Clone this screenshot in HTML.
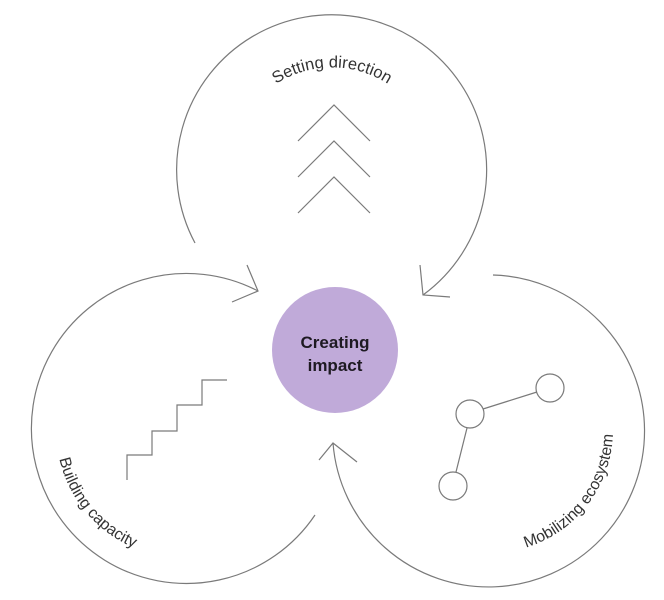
<!DOCTYPE html>
<html><head><meta charset="utf-8"><style>
html,body{margin:0;padding:0;background:#fff;}
svg{display:block;}
text{font-family:"Liberation Sans",sans-serif;fill:#333;}
</style></head><body>
<svg width="664" height="600" viewBox="0 0 664 600" xmlns="http://www.w3.org/2000/svg">
<defs>
<path id="pTop" d="M 235.2 135.2 A 103 103 0 0 1 428.8 135.2"/>
<path id="pLeft" d="M 56 430 A 128 128 0 0 0 161.8 556"/>
<path id="pRight" d="M 500.7 552.5 A 123 123 0 0 0 611.1 408.6"/>
</defs>
<g fill="none" stroke="#7a7a7a" stroke-width="1.2">
<path d="M 195 243 A 155 155 0 1 1 423 295"/>
<polyline points="420,265 423,295 450,297"/>
<path d="M 258 291 A 155 155 0 1 0 315 515"/>
<polyline points="247,265 258,291 232,302"/>
<path d="M 493 275 A 156 156 0 1 1 333 443"/>
<polyline points="319,460 333,443 357,462"/>
<polyline points="298,141 334,105 370,141"/>
<polyline points="298,177 334,141 370,177"/>
<polyline points="298,213 334,177 370,213"/>
<polyline points="127,480 127,455 152,455 152,431 177,431 177,405 202,405 202,380 227,380"/>
<circle cx="470" cy="414" r="14"/>
<circle cx="550" cy="388" r="14"/>
<circle cx="453" cy="486" r="14"/>
<line x1="483" y1="409" x2="537" y2="392"/>
<line x1="467" y1="428" x2="456" y2="472"/>
</g>
<circle cx="335" cy="350" r="63" fill="#c0aad9"/>
<text x="335" y="348" font-size="17" font-weight="600" text-anchor="middle" style="fill:#1e1a22">Creating</text>
<text x="335" y="371" font-size="17" font-weight="600" text-anchor="middle" style="fill:#1e1a22">impact</text>
<text font-size="16.5"><textPath href="#pTop" startOffset="50%" text-anchor="middle">Setting direction</textPath></text>
<text font-size="16"><textPath href="#pLeft" startOffset="50%" text-anchor="middle">Building capacity</textPath></text>
<text font-size="16"><textPath href="#pRight" startOffset="50%" text-anchor="middle">Mobilizing ecosystem</textPath></text>
</svg>
</body></html>
